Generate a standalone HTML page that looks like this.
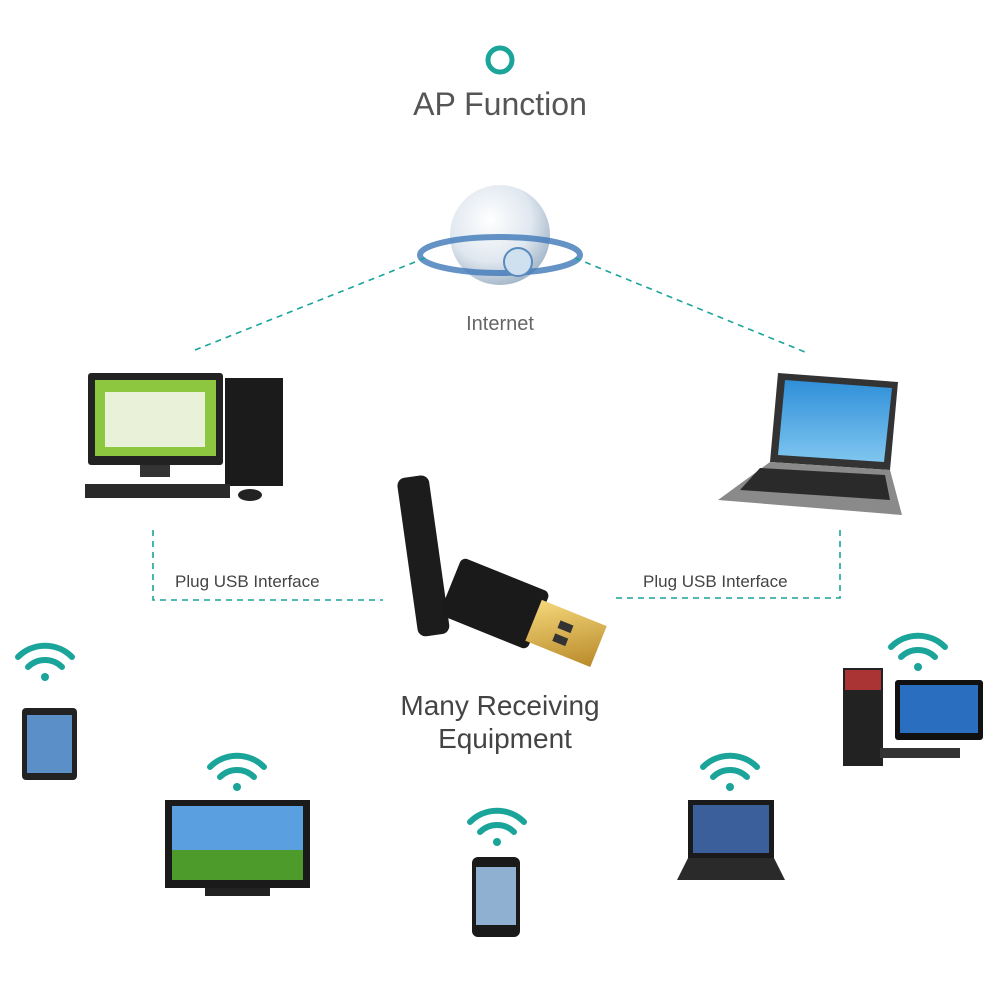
<!DOCTYPE html>
<html><head><meta charset="utf-8"><style>
html,body{margin:0;padding:0;background:#fff;}
svg{display:block;font-family:"Liberation Sans",sans-serif;}
</style></head><body>
<svg width="1000" height="1000" viewBox="0 0 1000 1000">
<defs>
<radialGradient id="gl" cx="0.4" cy="0.35" r="0.7"><stop offset="0" stop-color="#ffffff"/><stop offset="0.6" stop-color="#dfe7ef"/><stop offset="1" stop-color="#9fb3c6"/></radialGradient>
<linearGradient id="scr" x1="0" y1="0" x2="0" y2="1"><stop offset="0" stop-color="#2f8fd8"/><stop offset="1" stop-color="#7fc6f0"/></linearGradient>
<linearGradient id="gold" x1="0" y1="0" x2="1" y2="1"><stop offset="0" stop-color="#f4d77a"/><stop offset="1" stop-color="#b98a2a"/></linearGradient>
<g id="wifi" fill="none" stroke="#1aa49a" stroke-width="6" stroke-linecap="round">
<path d="M-27,-8 A38,38 0 0 1 27,-8"/><path d="M-17,2 A24,24 0 0 1 17,2"/><circle cx="0" cy="12" r="4" fill="#1aa49a" stroke="none"/>
</g>
</defs>
<circle cx="500" cy="60" r="12" fill="none" stroke="#1aa49a" stroke-width="5"/>
<text x="500" y="115" text-anchor="middle" font-size="32" fill="#555">AP Function</text>
<!-- globe -->
<circle cx="500" cy="235" r="50" fill="url(#gl)"/>
<ellipse cx="500" cy="255" rx="80" ry="18" fill="none" stroke="#3f78b8" stroke-width="6" opacity="0.8"/>
<circle cx="518" cy="262" r="14" fill="#cfe0ee" stroke="#5a8bbf" stroke-width="2"/>
<text x="500" y="330" text-anchor="middle" font-size="20" fill="#666">Internet</text>
<!-- dashed lines -->
<g stroke="#1aa49a" stroke-width="1.6" stroke-dasharray="6,5" fill="none">
<line x1="195" y1="350" x2="425" y2="258"/>
<line x1="575" y1="258" x2="805" y2="352"/>
<polyline points="153,530 153,600 383,600"/>
<polyline points="840,530 840,598 612,598"/>
</g>
<text x="175" y="587" font-size="17" fill="#444">Plug USB Interface</text>
<text x="643" y="587" font-size="17" fill="#444">Plug USB Interface</text>
<!-- desktop left -->
<rect x="88" y="373" width="135" height="92" rx="3" fill="#222"/>
<rect x="95" y="380" width="121" height="76" fill="#8dc63f"/>
<rect x="105" y="392" width="100" height="55" fill="#e9f2d8"/>
<rect x="140" y="465" width="30" height="12" fill="#333"/>
<rect x="225" y="378" width="58" height="108" fill="#1b1b1b"/>
<rect x="85" y="484" width="145" height="14" fill="#2a2a2a"/>
<ellipse cx="250" cy="495" rx="12" ry="6" fill="#222"/>
<!-- laptop right -->
<polygon points="778,373 898,382 890,470 770,462" fill="#333"/>
<polygon points="785,380 892,388 884,462 778,455" fill="url(#scr)"/>
<polygon points="770,462 890,470 902,515 718,500" fill="#8a8a8a"/>
<polygon points="760,468 885,475 890,500 740,490" fill="#2a2a2a"/>
<!-- usb -->
<g transform="rotate(-8 430 560)">
<rect x="408" y="475" width="32" height="160" rx="8" fill="#1c1c1c"/>
</g>
<g transform="rotate(22 500 610)">
<rect x="445" y="575" width="95" height="62" rx="6" fill="#1a1a1a"/>
<rect x="535" y="585" width="70" height="44" fill="url(#gold)"/>
<rect x="560" y="597" width="14" height="8" fill="#333"/><rect x="560" y="611" width="14" height="8" fill="#333"/>
</g>
<text x="500" y="715" text-anchor="middle" font-size="28" fill="#444">Many Receiving</text>
<text x="505" y="748" text-anchor="middle" font-size="28" fill="#444">Equipment</text>
<!-- wifi icons -->
<use href="#wifi" x="45" y="665"/>
<use href="#wifi" x="237" y="775"/>
<use href="#wifi" x="497" y="830"/>
<use href="#wifi" x="730" y="775"/>
<use href="#wifi" x="918" y="655"/>
<!-- tablet -->
<rect x="22" y="708" width="55" height="72" rx="4" fill="#222"/>
<rect x="27" y="715" width="45" height="58" fill="#5a8fc8"/>
<!-- TV -->
<rect x="165" y="800" width="145" height="88" fill="#1a1a1a"/>
<rect x="172" y="806" width="131" height="74" fill="#5aa0e0"/>
<rect x="172" y="850" width="131" height="30" fill="#4d9b2a"/>
<rect x="205" y="888" width="65" height="8" fill="#222"/>
<!-- phone -->
<rect x="472" y="857" width="48" height="80" rx="6" fill="#1a1a1a"/>
<rect x="476" y="867" width="40" height="58" fill="#8fb0d0"/>
<!-- laptop small -->
<rect x="688" y="800" width="86" height="58" fill="#1a1a1a"/>
<rect x="693" y="805" width="76" height="48" fill="#3b5f9a"/>
<polygon points="688,858 774,858 785,880 677,880" fill="#2a2a2a"/>
<!-- desktop right -->
<rect x="843" y="668" width="40" height="98" fill="#222"/>
<rect x="845" y="670" width="36" height="20" fill="#a33"/>
<rect x="895" y="680" width="88" height="60" rx="3" fill="#111"/>
<rect x="900" y="685" width="78" height="48" fill="#2a6fbf"/>
<rect x="880" y="748" width="80" height="10" fill="#333"/>
</svg>
</body></html>
